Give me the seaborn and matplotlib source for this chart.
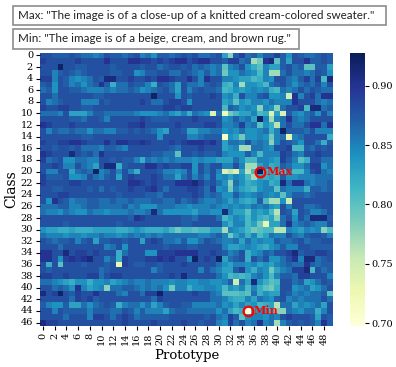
import numpy as np
import pandas as pd
import seaborn as sns
import matplotlib
matplotlib.use("Agg")
import matplotlib.pyplot as plt
from matplotlib.patches import Rectangle

W, H = 396, 367
plt.rcParams["font.family"] = "DejaVu Serif"

# Similarity in hundredths, one list per class: prototypes 0-14, 15-30, 31-49
r00 = [88,88,87,87,87,88,87,86,86,85,86,88,87,87,86, 87,88,85,86,84,87,87,86,87,88,87,88,86,86,87,88, 83,78,87,89,86,87,85,87,87,89,87,84,88,87,86,86,87,88,87]
r01 = [89,88,88,88,88,88,89,88,88,88,88,90,88,88,88, 90,90,89,89,88,89,88,89,90,90,88,89,90,90,88,88, 87,89,89,86,87,77,79,90,91,80,87,83,88,88,90,87,87,88,87]
r02 = [88,88,88,92,88,88,87,87,88,88,88,88,87,88,88, 88,88,87,88,88,86,87,88,88,87,88,86,87,86,85,86, 80,85,86,88,84,82,80,85,83,83,87,88,86,87,80,80,87,87,83]
r03 = [88,88,85,87,88,87,86,87,88,88,88,88,87,87,88, 88,84,85,87,87,88,88,86,86,88,87,86,85,87,85,86, 79,84,84,86,85,84,81,85,77,77,86,88,86,86,85,86,88,87,84]
r04 = [89,89,85,88,87,85,84,85,86,88,87,91,91,88,88, 89,88,88,89,88,90,90,89,88,88,90,88,85,90,88,88, 85,85,84,83,83,81,82,85,84,88,88,86,85,87,89,86,89,81,91]
r05 = [87,88,84,88,87,85,86,84,86,87,90,87,82,86,86, 88,87,87,85,82,88,87,86,83,88,86,86,85,87,88,87, 82,81,85,77,84,84,83,81,86,87,88,86,84,86,87,86,88,85,88]
r06 = [86,87,84,88,88,87,87,86,85,85,85,86,85,86,86, 87,86,84,85,86,87,88,86,83,88,85,87,88,87,87,86, 81,82,84,83,84,85,84,85,82,81,86,85,86,88,86,88,87,86,86]
r07 = [88,88,86,88,88,88,88,88,88,87,87,88,88,88,88, 88,88,88,88,92,88,88,88,84,88,87,88,88,88,89,88, 84,85,82,88,85,85,87,88,84,84,85,75,90,85,88,89,86,90,90]
r08 = [88,85,86,87,88,88,88,85,85,85,88,87,88,88,88, 88,88,89,88,86,86,88,89,89,88,84,88,88,88,88,88, 83,84,80,84,83,85,85,84,86,85,85,85,90,88,88,88,86,85,86]
r09 = [89,88,88,89,89,88,88,87,87,88,88,88,88,88,88, 88,88,88,88,88,88,89,89,88,89,89,88,88,88,88,88, 81,87,86,84,85,84,78,85,84,78,86,88,88,89,81,91,91,86,87]
r10 = [86,86,86,85,88,83,83,83,85,87,87,86,86,86,86, 86,85,84,84,84,85,86,84,83,85,82,86,85,84,74,86, 72,79,81,83,83,85,81,82,74,83,74,87,85,84,86,87,84,88,85]
r11 = [88,88,88,88,88,87,87,86,88,88,87,85,88,88,88, 88,88,89,88,87,87,87,88,88,88,88,89,88,88,88,88, 84,85,87,85,86,83,92,85,77,85,86,90,86,85,86,88,88,88,88]
r12 = [90,89,88,88,88,89,88,88,88,88,88,88,88,88,88, 89,89,90,88,88,88,88,88,89,88,88,88,88,89,89,88, 85,85,86,89,85,86,80,84,82,76,86,88,86,86,88,90,90,86,90]
r13 = [88,85,87,86,86,87,86,86,84,86,86,85,85,87,87, 88,87,88,87,86,84,83,88,88,87,83,83,85,85,86,86, 84,85,84,86,84,84,85,86,82,85,92,87,87,87,86,88,85,85,85]
r14 = [88,88,88,88,88,88,88,87,87,88,88,88,88,88,88, 88,88,88,88,88,84,88,88,88,88,85,85,86,87,87,87, 71,84,83,79,84,84,85,84,79,85,86,73,85,86,88,88,88,88,82]
r15 = [89,88,88,89,89,90,90,89,88,88,88,90,88,90,90, 89,89,90,89,88,88,88,89,88,89,90,90,90,89,90,88, 83,86,86,85,88,85,86,85,78,85,88,87,86,84,88,88,86,82,87]
r16 = [88,88,87,88,88,87,88,86,86,86,85,87,87,86,85, 88,88,88,88,88,88,88,87,86,88,88,88,89,88,88,88, 83,84,85,77,77,86,86,85,84,88,88,89,81,81,87,86,88,87,88]
r17 = [90,89,88,88,88,91,88,87,88,86,90,88,88,88,88, 88,88,88,88,87,87,86,86,80,88,88,87,88,87,87,88, 85,84,84,84,87,85,81,85,85,85,89,88,86,85,88,88,89,88,88]
r18 = [89,86,87,88,84,84,86,86,85,85,88,88,87,88,87, 87,85,82,86,85,86,85,86,85,85,85,84,85,84,84,83, 83,83,86,84,81,81,85,85,84,83,89,87,85,80,82,88,88,86,86]
r19 = [88,88,89,88,85,85,88,86,85,83,88,91,91,82,87, 88,88,88,90,90,88,89,88,88,89,89,84,88,86,88,88, 85,85,88,85,77,77,83,85,82,83,87,86,84,84,86,89,89,84,86]
r20 = [88,85,85,88,88,83,86,87,86,92,85,86,88,85,88, 85,82,88,88,88,87,85,85,84,85,88,84,88,86,88,85, 74,76,74,83,76,81,93,81,82,82,81,85,81,81,85,88,89,86,85]
r21 = [89,87,87,87,88,84,84,85,88,86,85,87,88,83,88, 89,88,88,88,89,88,86,86,83,86,88,85,87,85,88,84, 85,83,85,84,81,77,83,82,83,82,87,84,84,85,85,85,86,86,86]
r22 = [89,88,88,88,88,89,89,88,88,88,88,88,88,88,88, 90,90,89,88,89,88,88,88,90,90,90,91,89,87,88,86, 84,78,86,84,82,83,84,85,82,83,91,86,90,90,86,85,86,86,87]
r23 = [88,88,87,87,88,88,88,88,87,88,86,88,87,88,88, 89,88,88,89,90,88,86,88,88,88,89,89,88,86,89,84, 85,79,85,83,82,81,84,85,85,80,86,85,85,85,82,87,87,86,87]
r24 = [88,88,88,89,89,88,88,88,88,88,88,88,88,87,88, 88,88,88,87,87,86,88,88,88,88,88,89,88,86,87,86, 84,84,87,85,84,85,86,85,84,85,80,85,87,87,86,87,88,88,88]
r25 = [88,84,90,88,87,85,86,86,87,87,86,86,87,86,86, 87,86,86,86,87,87,86,86,88,86,87,88,86,85,85,86, 85,83,85,83,82,83,87,81,77,77,84,75,88,88,88,88,88,88,88]
r26 = [86,86,86,87,87,85,85,86,87,87,86,86,86,86,87, 85,86,84,84,84,86,86,86,85,85,84,85,85,85,86,85, 84,85,84,85,84,86,85,86,84,83,88,85,88,88,86,86,87,88,88]
r27 = [86,85,85,84,86,85,84,84,86,85,85,84,85,85,85, 86,85,85,86,91,86,84,84,84,84,84,83,85,85,84,84, 91,85,83,83,80,84,83,84,81,76,88,87,83,88,87,85,85,86,88]
r28 = [88,88,88,88,88,88,88,88,88,88,88,88,88,88,88, 87,90,89,88,88,88,88,88,88,87,87,86,88,88,88,86, 81,83,85,84,81,84,82,81,83,78,86,88,84,88,86,91,91,91,87]
r29 = [88,88,88,88,87,88,88,88,88,88,88,88,88,87,88, 88,88,88,88,88,88,88,88,88,87,87,88,88,88,88,88, 84,82,85,85,81,83,79,73,83,83,86,90,85,86,87,86,85,85,88]
r30 = [84,83,83,82,82,83,82,82,82,83,83,83,83,82,82, 83,84,83,82,82,82,83,81,79,81,81,80,81,81,83,83, 77,85,84,83,81,79,80,81,81,76,76,85,84,83,85,84,85,78,81]
r31 = [86,85,85,85,84,85,85,84,85,85,86,85,85,84,85, 86,85,86,85,86,85,86,86,86,86,86,86,85,85,86,87, 85,79,83,85,82,85,81,83,86,85,85,88,86,85,87,88,88,87,85]
r32 = [88,87,86,87,87,88,85,87,88,83,87,87,88,88,87, 88,88,83,88,89,88,86,86,85,87,84,84,86,88,87,86, 85,85,86,83,86,84,85,84,84,87,86,86,87,88,86,87,87,88,88]
r33 = [88,88,88,86,88,88,88,88,88,88,88,85,86,88,84, 88,88,88,88,88,88,87,88,88,88,87,87,88,88,88,88, 85,83,83,84,85,84,83,82,84,85,87,85,85,88,88,87,87,87,87]
r34 = [90,90,88,88,91,88,89,89,88,89,88,88,88,82,86, 88,88,88,84,84,89,89,89,90,90,90,90,88,88,89,88, 87,85,86,88,82,84,85,87,86,88,88,89,91,87,88,88,89,89,88]
r35 = [90,90,88,84,89,90,89,90,91,88,88,85,87,82,89, 88,88,88,89,89,90,89,90,88,88,85,92,88,89,88,92, 83,86,87,88,82,88,86,88,84,84,86,88,90,85,91,91,86,87,88]
r36 = [88,82,88,80,88,88,88,87,88,88,88,87,88,73,89, 88,87,87,88,88,87,88,88,88,89,88,88,88,88,88,86, 84,83,85,85,84,85,83,84,83,85,86,87,86,86,90,87,86,87,87]
r37 = [88,87,88,88,88,88,88,88,88,88,86,87,88,88,88, 88,88,88,88,85,87,88,88,88,88,88,88,85,88,86,85, 83,83,87,89,84,82,85,84,79,83,85,86,89,89,91,81,88,86,87]
r38 = [89,89,88,88,89,88,88,88,89,89,86,88,89,89,88, 88,88,88,88,88,88,88,89,88,91,88,88,88,88,88,86, 84,81,82,81,82,85,86,84,81,85,87,87,86,89,89,88,88,88,85]
r39 = [86,86,85,84,83,82,84,84,82,84,84,85,83,84,85, 86,85,85,86,85,85,85,84,85,85,84,84,85,85,84,84, 85,87,75,86,83,91,84,82,80,81,88,88,86,87,83,84,86,88,87]
r40 = [88,88,86,87,86,84,90,85,83,84,85,78,86,86,87, 87,86,85,86,85,86,84,79,85,85,82,84,84,85,85,84, 81,84,83,85,81,85,82,80,79,82,88,88,84,85,86,83,84,86,88]
r41 = [91,88,89,92,88,87,89,88,88,90,88,88,88,86,85, 88,88,86,89,89,92,88,88,88,88,88,89,88,88,86,85, 80,80,80,81,80,86,82,84,83,83,88,87,85,86,85,86,86,87,80]
r42 = [88,88,88,88,88,86,89,88,89,87,88,88,88,88,88, 88,88,88,88,86,89,88,88,88,88,88,88,88,88,86,86, 85,83,82,82,85,83,86,85,84,87,88,85,86,85,86,86,86,88,86]
r43 = [87,85,84,84,87,83,83,86,84,86,87,88,87,82,85, 86,86,84,86,83,85,87,88,88,87,87,85,85,85,85,86, 84,85,83,85,83,84,81,82,83,76,86,86,83,85,84,85,86,83,88]
r44 = [88,88,85,88,87,87,87,87,85,87,87,87,86,86,88, 87,85,87,85,85,85,83,86,87,87,86,86,86,86,86,84, 86,83,81,82,70,82,84,83,82,78,78,86,85,84,86,86,82,85,88]
r45 = [88,88,88,88,86,88,88,88,85,89,89,88,86,88,89, 88,86,87,87,87,87,87,88,88,88,88,88,88,87,88,86, 85,89,87,80,84,85,85,84,86,85,88,89,88,88,88,87,83,88,87]
r46 = [91,89,89,88,88,88,88,88,88,88,88,88,88,88,89, 88,88,88,88,89,88,88,88,88,89,88,88,87,88,88,85, 84,89,86,88,85,86,90,85,86,77,85,87,88,87,88,87,85,90,87]

rows = [r00,r01,r02,r03,r04,r05,r06,r07,r08,r09,r10,r11,r12,r13,r14,r15,
        r16,r17,r18,r19,r20,r21,r22,r23,r24,r25,r26,r27,r28,r29,r30,r31,
        r32,r33,r34,r35,r36,r37,r38,r39,r40,r41,r42,r43,r44,r45,r46]
bad = [i for i, r in enumerate(rows) if len(r) != 50]
if bad:
    raise ValueError(f"bad rows {[(i, len(rows[i])) for i in bad]}")

caption_max = 'Max: "The image is of a close-up of a knitted cream-colored sweater."'
caption_min = 'Min: "The image is of a beige, cream, and brown rug."'

df = pd.DataFrame(np.array(rows) / 100.0)
fig = plt.figure(figsize=(W / 100, H / 100), dpi=100)


def fbox(x0, y0, x1, y1):
    return [x0 / W, 1 - y1 / H, (x1 - x0) / W, (y1 - y0) / H]


ax = fig.add_axes(fbox(40, 52.5, 333, 325.5))
cax = fig.add_axes(fbox(350, 52.5, 364.5, 325.5))
sns.heatmap(df, ax=ax, cbar_ax=cax, cmap="YlGnBu", vmin=0.698, vmax=0.928,
            xticklabels=2, yticklabels=2)
ax.tick_params(axis="x", labelsize=7, rotation=90, length=3, width=0.8, pad=2)
ax.tick_params(axis="y", labelsize=7, rotation=0, length=3, width=0.8, pad=2)
ax.set_xlabel("Prototype", fontsize=9.5, labelpad=3)
ax.set_ylabel("Class", fontsize=10, labelpad=2)
cax.set_yticks([0.70, 0.75, 0.80, 0.85, 0.90])
cax.set_yticklabels(["0.70", "0.75", "0.80", "0.85", "0.90"])
cax.tick_params(labelsize=7, length=3, width=0.8, pad=2)

vals = df.to_numpy()
iy, ix = np.unravel_index(vals.argmax(), vals.shape)
ax.plot(ix + .5, iy + .5, "o", mfc="none", mec="red", mew=1.6, ms=7)
ax.text(ix + 1.7, iy + .5, "Max", color="red", fontsize=8, fontweight="bold", va="center")
iy, ix = np.unravel_index(vals.argmin(), vals.shape)
ax.plot(ix + .5, iy + .5, "o", mfc="none", mec="red", mew=1.6, ms=7)
ax.text(ix + 1.4, iy + .5, "Min", color="red", fontsize=8, fontweight="bold", va="center")

for (x0, y0, x1, y1, s) in [(13.5, 5.5, 386, 25, caption_max), (13.5, 29, 299, 49, caption_min)]:
    fig.add_artist(Rectangle((x0 / W, 1 - y1 / H), (x1 - x0) / W, (y1 - y0) / H,
                             transform=fig.transFigure, fc="white", ec="#8c8c8c", lw=1.2))
    fig.text(18.5 / W, 1 - (y0 + y1) / 2 / H, s, family="Lato", fontsize=8.35,
             color="#222222", va="center", ha="left")

fig.savefig("out.png", dpi=100)
